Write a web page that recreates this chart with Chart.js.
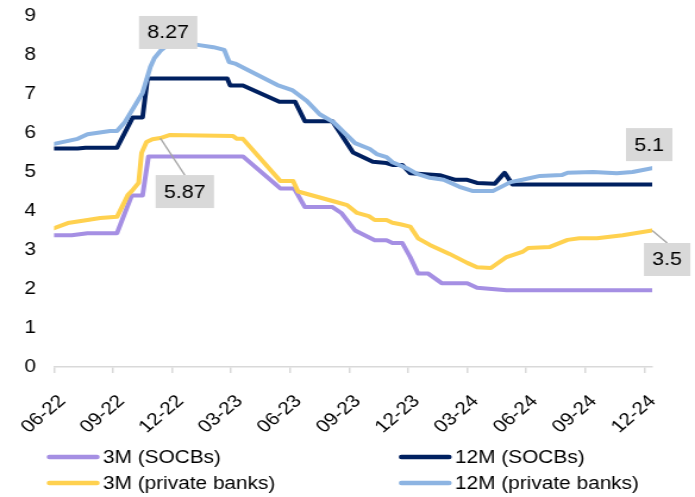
<!DOCTYPE html>
<html>
<head>
<meta charset="utf-8">
<script src="https://cdn.jsdelivr.net/npm/chart.js@4/dist/chart.umd.min.js"></script>
<style>
  html, body { margin: 0; padding: 0; background: #fff; }
</style>
</head>
<body>
<!-- drawn narrower and widened by CSS, like the exported chart -->
<canvas id="rates" width="584" height="497" style="display:block;width:695px;height:497px"></canvas>
<script>
// x values are months counted from June 2022
const tickLabels = ['06-22', '09-22', '12-22', '03-23', '06-23', '09-23', '12-23', '03-24', '06-24', '09-24', '12-24'];

const socb3mMonths = [0, 0.9, 1.7, 3.2, 3.95, 4.5, 4.8, 9.6, 11.5, 12.2, 12.75, 14.15, 14.6, 15.3, 16.3, 16.9, 17.2, 17.7, 18.1, 18.5, 19.0, 19.7, 21.0, 21.5, 23.0, 30.4];
const socb3mRates = [3.38, 3.38, 3.43, 3.43, 4.4, 4.4, 5.4, 5.4, 4.58, 4.58, 4.1, 4.1, 3.95, 3.5, 3.25, 3.25, 3.18, 3.18, 2.82, 2.4, 2.4, 2.15, 2.15, 2.03, 1.97, 1.97];

const socb12mMonths = [0, 1.2, 1.6, 3.2, 4.0, 4.5, 4.75, 8.8, 8.95, 9.6, 11.45, 12.25, 12.75, 14.15, 15.2, 16.2, 16.9, 17.2, 17.7, 18.1, 19.6, 20.4, 21.0, 21.5, 22.4, 22.9, 23.3, 30.4];
const socb12mRates = [5.6, 5.6, 5.62, 5.62, 6.4, 6.4, 7.4, 7.4, 7.22, 7.22, 6.8, 6.8, 6.3, 6.3, 5.5, 5.26, 5.23, 5.18, 5.18, 4.97, 4.92, 4.8, 4.8, 4.72, 4.7, 4.98, 4.68, 4.68];

const priv3mMonths = [0, 0.7, 1.7, 2.35, 3.2, 3.5, 3.75, 4.0, 4.3, 4.45, 4.7, 5.0, 5.4, 5.9, 9.1, 9.3, 9.6, 11.5, 12.15, 12.4, 14.2, 14.9, 15.4, 16.0, 16.3, 16.9, 17.2, 17.6, 18.1, 18.5, 19.1, 20.1, 21.0, 21.5, 22.2, 23.0, 23.8, 24.1, 25.2, 26.1, 26.7, 27.6, 28.9, 30.4];
const priv3mRates = [3.56, 3.69, 3.77, 3.82, 3.85, 4.15, 4.41, 4.54, 4.72, 5.49, 5.77, 5.84, 5.87, 5.95, 5.92, 5.85, 5.85, 4.77, 4.77, 4.5, 4.25, 4.15, 3.95, 3.87, 3.77, 3.77, 3.7, 3.66, 3.6, 3.3, 3.13, 2.9, 2.67, 2.56, 2.54, 2.82, 2.95, 3.05, 3.08, 3.26, 3.3, 3.3, 3.38, 3.5];

const priv12mMonths = [0, 1.2, 1.7, 2.85, 3.2, 3.6, 4.5, 4.9, 5.1, 5.45, 5.8, 7.3, 8.1, 8.65, 8.9, 9.2, 11.35, 12.1, 12.85, 13.5, 14.2, 15.3, 16.05, 16.4, 16.9, 17.2, 18.0, 18.45, 19.1, 19.8, 20.6, 21.3, 22.3, 23.2, 23.8, 24.7, 25.8, 26.1, 27.4, 28.6, 29.4, 30.4];
const priv12mRates = [5.72, 5.85, 5.97, 6.05, 6.05, 6.28, 7.03, 7.7, 7.92, 8.13, 8.27, 8.26, 8.2, 8.13, 7.82, 7.78, 7.23, 7.1, 6.82, 6.48, 6.28, 5.74, 5.59, 5.46, 5.38, 5.25, 5.08, 4.95, 4.85, 4.8, 4.62, 4.51, 4.51, 4.74, 4.8, 4.9, 4.92, 4.98, 5.0, 4.97, 5.0, 5.1];

const FONT = '"Liberation Sans", Arial, sans-serif';
Chart.defaults.font.family = FONT;
Chart.defaults.color = '#000';

const toPoints = (xs, ys) => xs.map((x, i) => ({ x, y: ys[i] }));

function series(label, xs, ys, color, order) {
  return {
    label,
    data: toPoints(xs, ys),
    borderColor: color,
    backgroundColor: color,
    borderWidth: 4,
    borderJoinStyle: 'round',
    borderCapStyle: 'round',
    pointRadius: 0,
    tension: 0,
    order
  };
}

// value boxes: dataset, point index, box centre offset, leader line
const callouts = [
  { ds: 3, idx: 10, dx: 0, dy: -12, leader: false },
  { ds: 2, idx: 12, dx: 20.6, dy: 53.5, leader: true },
  { ds: 3, idx: 41, dx: -2.5, dy: -23.5, leader: false },
  { ds: 2, idx: 43, dx: 12.6, dy: 29, leader: true }
];

const calloutPlugin = {
  id: 'callouts',
  afterDatasetsDraw(chart) {
    const ctx = chart.ctx;
    ctx.save();
    ctx.font = '18px ' + FONT;
    ctx.textAlign = 'center';
    ctx.textBaseline = 'middle';
    callouts.forEach(c => {
      const el = chart.getDatasetMeta(c.ds).data[c.idx];
      const value = chart.data.datasets[c.ds].data[c.idx].y;
      const text = String(value);
      const w = ctx.measureText(text).width + 14;
      const h = 33;
      const cx = el.x + c.dx, cy = el.y + c.dy;
      if (c.leader) {
        ctx.strokeStyle = '#a6a6a6';
        ctx.lineWidth = 1.3;
        ctx.beginPath();
        ctx.moveTo(el.x, el.y);
        ctx.lineTo(cx, cy - h / 2);
        ctx.stroke();
      }
      ctx.fillStyle = '#d9d9d9';
      ctx.fillRect(cx - w / 2, cy - h / 2, w, h);
      ctx.fillStyle = '#000';
      ctx.fillText(text, cx, cy + 1);
    });
    ctx.restore();
  }
};

// two-column key under the axis
const keyPlugin = {
  id: 'seriesKey',
  afterDraw(chart) {
    const ctx = chart.ctx;
    const cols = [39.5, 335.3];
    const rows = [457, 483];
    ctx.save();
    ctx.font = '17.5px ' + FONT;
    ctx.textBaseline = 'middle';
    ctx.textAlign = 'left';
    chart.data.datasets.forEach((ds, i) => {
      const x = cols[i % 2], y = rows[Math.floor(i / 2)];
      ctx.strokeStyle = ds.borderColor;
      ctx.lineWidth = 4.5;
      ctx.lineCap = 'round';
      ctx.beginPath();
      ctx.moveTo(x + 2, y);
      ctx.lineTo(x + 42, y);
      ctx.stroke();
      ctx.fillStyle = '#000';
      ctx.fillText(ds.label, x + 47, y + 1);
    });
    ctx.restore();
  }
};

new Chart(document.getElementById('rates'), {
  type: 'line',
  data: {
    datasets: [
      series('3M (SOCBs)', socb3mMonths, socb3mRates, '#a58fe3', 3),
      series('12M (SOCBs)', socb12mMonths, socb12mRates, '#002060', 2),
      series('3M (private banks)', priv3mMonths, priv3mRates, '#ffd14f', 1),
      series('12M (private banks)', priv12mMonths, priv12mRates, '#8db4e2', 0)
    ]
  },
  options: {
    responsive: false,
    animation: false,
    devicePixelRatio: 1,
    layout: { padding: { top: 16, right: 36, bottom: 0, left: 0 } },
    plugins: {
      legend: { display: false },
      tooltip: { enabled: false }
    },
    scales: {
      x: {
        type: 'linear',
        min: 0,
        max: 30.4,
        afterFit(scale) {
          scale.height = 130;
          scale.paddingLeft = 0;
          scale.paddingRight = 0;
        },
        border: { color: '#d9d9d9', width: 1.5 },
        grid: { drawOnChartArea: false, drawTicks: true, tickLength: 6, color: '#d9d9d9', lineWidth: 1.5 },
        ticks: {
          stepSize: 3,
          includeBounds: false,
          autoSkip: false,
          minRotation: 45,
          maxRotation: 45,
          padding: 18,
          labelOffset: 7,
          color: '#000',
          font: { size: 17.5 },
          callback: v => tickLabels[Math.round(v / 3)] ?? ''
        }
      },
      y: {
        min: 0,
        max: 9,
        afterFit(scale) {
          scale.width = 45.4;
          scale.paddingTop = 0;
          scale.paddingBottom = 0;
        },
        border: { display: false },
        grid: { display: false, drawTicks: false },
        ticks: { stepSize: 1, padding: 15.2, color: '#000', font: { size: 17.5 } }
      }
    }
  },
  plugins: [calloutPlugin, keyPlugin]
});
</script>
</body>
</html>
